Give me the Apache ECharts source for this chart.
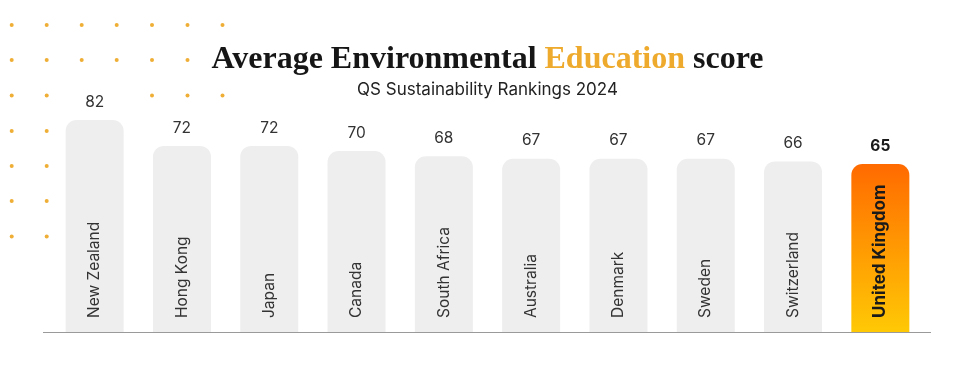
<!DOCTYPE html>
<html>
<head>
<meta charset="utf-8">
<script src="https://cdn.jsdelivr.net/npm/echarts@6/dist/echarts.min.js"></script>
<style>html,body{margin:0;padding:0;background:#fff;}#c{width:975px;height:369px;}</style>
</head>
<body>
<div id="c"></div>
<script>
const countries = ['New Zealand','Hong Kong','Japan','Canada','South Africa','Australia','Denmark','Sweden','Switzerland','United Kingdom'];
const scores = [82,72,72,70,68,67,67,67,66,65];
const highlight = 'United Kingdom';

const FONT = 'Inter, "Open Sans", sans-serif';
const chart = echarts.init(document.getElementById('c'));

// decorative dot pattern (rows of visible dots by column index)
const dotCols = [11.7, 46.7, 81.7, 116.7, 152, 187.5, 222.5];
const dotRows = [25, 60, 95.5, 131, 166, 201, 236.5];
const dotVisible = [[0,1,2,3,4,5,6],[0,1,2,3,4,5],[0,1,4,5,6],[0,1],[0,1],[0,1],[0,1]];
const dots = [];
dotRows.forEach((y, r) => dotVisible[r].forEach(c => dots.push({
  type: 'circle', shape: {cx: dotCols[c], cy: y, r: 2}, style: {fill: '#efae35'}, silent: true, z: 0
})));

const ukGrad = new echarts.graphic.LinearGradient(0,0,0,1,[{offset:0,color:'#ff6a00'},{offset:1,color:'#ffc905'}]);

chart.setOption({
  backgroundColor: '#fff',
  animation: false,
  title: [{
    text: '{a|Average Environmental }{b|Education}{a| score}',
    left: 'center', top: 39,
    textStyle: {
      rich: {
        a: {fontFamily: '"Liberation Serif", serif', fontWeight: 'bold', fontSize: 32, color: '#161616'},
        b: {fontFamily: '"Liberation Serif", serif', fontWeight: 'bold', fontSize: 32, color: '#eeaa2c'}
      }
    }
  },{
    text: 'QS Sustainability Rankings 2024',
    left: 'center', top: 76,
    textStyle: {fontFamily: FONT, fontWeight: 'normal', fontSize: 17, color: '#222'}
  }],
  graphic: dots.concat([{
    type: 'line', shape: {x1: 43, y1: 332.5, x2: 931, y2: 332.5}, style: {stroke: '#9a9a9a', lineWidth: 1.2}, silent: true, z: 10
  }]),
  grid: {left: 51, right: 51, top: 73.5, bottom: 37, containLabel: false},
  xAxis: {
    type: 'category', data: countries,
    axisLine: {show: false}, axisTick: {show: false}, axisLabel: {show: false}
  },
  yAxis: {type: 'value', min: 0, max: 100, show: false, splitLine: {show: false}},
  series: [{
    type: 'bar', barWidth: 58, z: 2,
    data: scores.map((v, i) => ({
      value: v,
      itemStyle: {color: countries[i] === highlight ? ukGrad : '#eeeeee', borderRadius: [11,11,0,0]},
      label: countries[i] === highlight ? {fontWeight: 'bold', fontSize: 17, color: '#1a1a1a'} : {}
    })),
    label: {
      show: true, position: 'insideBottom', rotate: 90, align: 'left', verticalAlign: 'middle',
      distance: 14, formatter: p => p.name, fontFamily: FONT, fontSize: 15.5, color: '#333'
    }
  },{
    type: 'bar', barWidth: 58, barGap: '-100%', silent: true, z: 3,
    itemStyle: {color: 'rgba(0,0,0,0)'},
    data: scores.map((v, i) => ({
      value: v,
      label: countries[i] === highlight ? {fontWeight: 'bold', color: '#1a1a1a'} : {}
    })),
    label: {show: true, position: 'top', distance: 10, fontFamily: FONT, fontSize: 15.5, color: '#333'}
  }]
});
</script>
</body>
</html>
